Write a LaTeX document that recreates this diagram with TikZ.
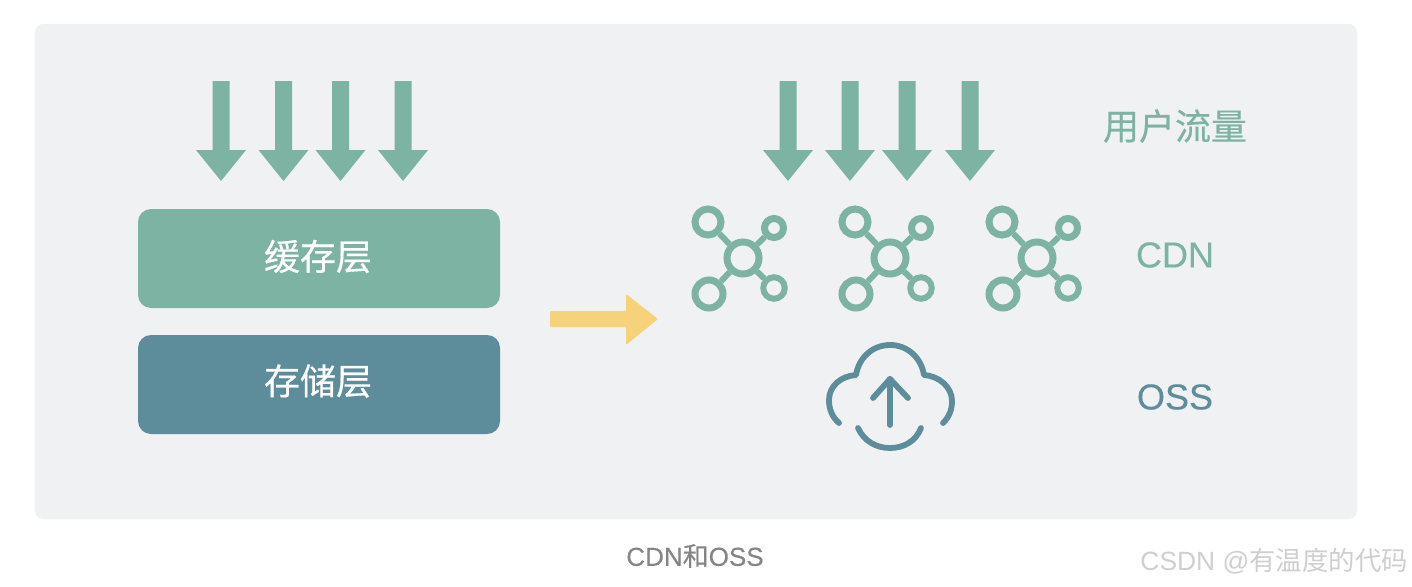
\documentclass[tikz,border=0pt]{standalone}
\usepackage{fontspec}
\setmainfont[FakeBold=0.25]{Liberation Sans}
\newfontfamily\cjk[FakeBold=0.35]{Noto Sans CJK SC}
\newfontfamily\cjklight{Noto Sans CJK SC}
\newfontfamily\latinlight{Liberation Sans}
\definecolor{panelbg}{HTML}{EFF1F3}
\definecolor{tealA}{HTML}{7DB3A3}
\definecolor{tealB}{HTML}{5D8C9B}
\definecolor{sun}{HTML}{F6D27A}
\definecolor{capgray}{HTML}{858585}
\definecolor{markgray}{HTML}{CFCFCF}
\tikzset{
  layerbox/.style={rounded corners=13pt,minimum width=362pt,minimum height=99pt,inner sep=0pt},
  layertext/.style={inner sep=0pt,text=white,font=\cjk\fontsize{36}{36}\selectfont},
  flow/.style={fill=tealA,draw=none},
  hubring/.style={circle,draw=tealA,line width=7pt,inner sep=0pt,fill=none},
  spoke/.style={draw=tealA,line width=6pt},
  cloudline/.style={draw=tealB,line width=5.8pt,line cap=round,line join=round},
  legendtext/.style={inner sep=0pt,font=\fontsize{36}{36}\selectfont},
  pics/netcluster/.style={code={
    \node[hubring,minimum size=32pt] (#1c) at (0,0) {};
    \node[hubring,minimum size=26pt] (#1a) at (-35,-36) {};
    \node[hubring,minimum size=19pt] (#1b) at (31,-30) {};
    \node[hubring,minimum size=21.5pt,line width=6pt] (#1d) at (31,30) {};
    \node[hubring,minimum size=28pt] (#1e) at (-34,36) {};
    \foreach \o in {a,b,d,e} \draw[spoke] (#1c) -- (#1\o);
  }}
}
\begin{document}
\begin{tikzpicture}[x=1pt,y=-1pt]
\useasboundingbox (0,0) rectangle (1412,586);
\fill[white] (0,0) rectangle (1412,586);
\fill[panelbg,rounded corners=8pt] (35,24) rectangle (1357,519);
% traffic arrows
\foreach \c in {221,283.5,340.5,403,788,850,907,970}
  \fill[flow] (\c-8.5,81) -- (\c+8.5,81) -- (\c+8.5,150) -- (\c+25,150) -- (\c,181) -- (\c-25,150) -- (\c-8.5,150) -- cycle;
% layers
\node[layerbox,fill=tealA] (cache) at (319,258.5) {};
\node[layerbox,fill=tealB] (store) at (319,384.5) {};
\node[layertext] (cachetext) at (318,256.5) {缓存层};
\node[layertext] (storetext) at (318,381) {存储层};
% yellow arrow
\fill[sun,rounded corners=1pt] (550,311) -- (626,311) -- (626,294) -- (658,319) -- (626,345) -- (626,327) -- (550,327) -- cycle;
% CDN clusters
\pic at (743,258) {netcluster=p};
\pic at (890,258) {netcluster=q};
\pic at (1037,258) {netcluster=r};
% cloud
\draw[cloudline] (839,423) .. controls (832,417) and (829,409) .. (829,400) .. controls (829,386) and (841,376) .. (856,375)
  .. controls (859,357) and (873,345) .. (890,345) .. controls (907,345) and (921,357) .. (924,375)
  .. controls (939,376) and (952,387) .. (952,401) .. controls (952,410) and (949,417) .. (943,423);
\draw[cloudline] (858,428) .. controls (864,441) and (876,448) .. (890,448) .. controls (904,448) and (916,441) .. (921,428);
\draw[cloudline] (890,425) -- (890,379);
\draw[cloudline] (873,398) -- (890,379) -- (908,398);
% legend
\node[legendtext,text=tealA,font=\cjk\fontsize{36}{36}\selectfont] (traffic) at (1175,126) {用户流量};
\node[legendtext,text=tealA] (cdn) at (1175,255) {CDN};
\node[legendtext,text=tealB] (oss) at (1175,397) {OSS};
% caption
\node[inner sep=0pt,text=capgray,font=\fontsize{26}{26}\selectfont] (caption) at (695,556) {CDN{\cjk 和}OSS};
\node[inner sep=0pt,text=markgray,font=\latinlight\fontsize{26.4}{26.4}\selectfont,anchor=east] (mark) at (1408,561) {CSDN @{\cjklight 有温度的代码}};
\end{tikzpicture}
\end{document}
